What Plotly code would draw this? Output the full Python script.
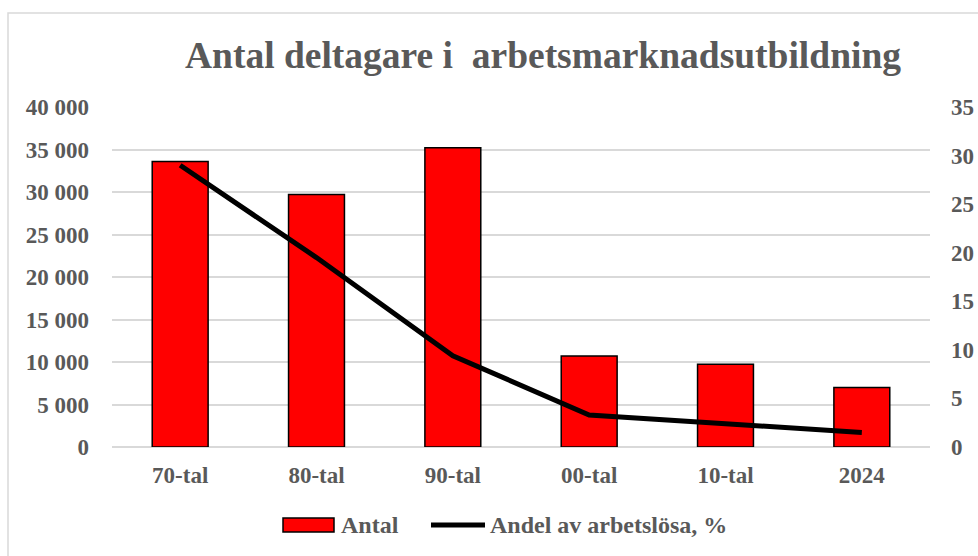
import plotly.graph_objects as go

categories = ["70-tal", "80-tal", "90-tal", "00-tal", "10-tal", "2024"]
antal = [33600, 29700, 35200, 10700, 9750, 7000]
andel = [29.0, 19.5, 9.4, 3.3, 2.4, 1.5]

title_text = "Antal deltagare i  arbetsmarknadsutbildning"
legend_names = ["Antal", "Andel av arbetslösa, %"]
FONT = "Liberation Serif, Times New Roman, serif"
GRAY = "#595959"

W, H = 978, 556
L, R, T, B = 112, 48, 107, 109
pw, ph = W - L - R, H - T - B


def px(x):
    return (x - L) / pw


def py(y):
    return (T + ph - y) / ph


fig = go.Figure()
fig.add_trace(go.Bar(
    x=categories, y=antal, name=legend_names[0],
    marker=dict(color="#ff0000", line=dict(color="#000000", width=1.5)),
    yaxis="y",
))
fig.add_trace(go.Scatter(
    x=categories, y=andel, name=legend_names[1],
    mode="lines", line=dict(color="#000000", width=5),
    yaxis="y2",
))

tick_font = dict(family=FONT, size=23, color=GRAY, weight="bold")
leg_font = dict(family=FONT, size=24, color=GRAY, weight="bold")

fig.update_layout(
    width=W, height=H,
    margin=dict(l=L, r=R, t=T, b=B, autoexpand=False),
    paper_bgcolor="white", plot_bgcolor="white",
    separators=", ",
    bargap=0.59,
    showlegend=False,
    font=dict(family=FONT, size=22, color=GRAY, weight="bold"),
    title=dict(text=title_text, x=543 / W, xanchor="center", xref="container",
               y=1 - 55 / H, yanchor="middle", yref="container",
               font=dict(family=FONT, size=37.5, color=GRAY, weight="bold")),
    xaxis=dict(showgrid=False, showline=False, zeroline=False, automargin=False,
               tickfont=tick_font, ticklabelstandoff=12),
    yaxis=dict(range=[0, 40000], dtick=5000, tickformat=",d", automargin=False,
               showgrid=True, gridcolor="#d9d9d9", gridwidth=1.5,
               zeroline=True, zerolinecolor="#d9d9d9", zerolinewidth=1.5,
               showline=False, tickfont=tick_font, ticklabelstandoff=22),
    yaxis2=dict(range=[0, 35], dtick=5, overlaying="y", side="right", automargin=False,
                showgrid=False, zeroline=False, showline=False,
                tickfont=tick_font, ticklabelstandoff=20),
    shapes=[
        dict(type="rect", xref="paper", yref="paper",
             x0=px(8), x1=1.2, y0=-0.6, y1=py(13),
             line=dict(color="#d9d9d9", width=1.5), layer="below"),
        # legend symbols
        dict(type="rect", xref="paper", yref="paper",
             x0=px(283), x1=px(334), y0=py(532), y1=py(518),
             fillcolor="#ff0000", line=dict(color="#000000", width=1.5)),
        dict(type="line", xref="paper", yref="paper",
             x0=px(431), x1=px(485), y0=py(525), y1=py(525),
             line=dict(color="#000000", width=5)),
    ],
    annotations=[
        dict(text=legend_names[0], xref="paper", yref="paper",
             x=px(339), y=py(525), xanchor="left", yanchor="middle",
             showarrow=False, font=leg_font),
        dict(text=legend_names[1], xref="paper", yref="paper",
             x=px(488), y=py(525), xanchor="left", yanchor="middle",
             showarrow=False, font=leg_font),
    ],
)

fig.write_html(
    "out.html",
    config={"displayModeBar": False},
    post_script="document.body.style.margin='0';document.body.style.overflow='hidden';",
)
